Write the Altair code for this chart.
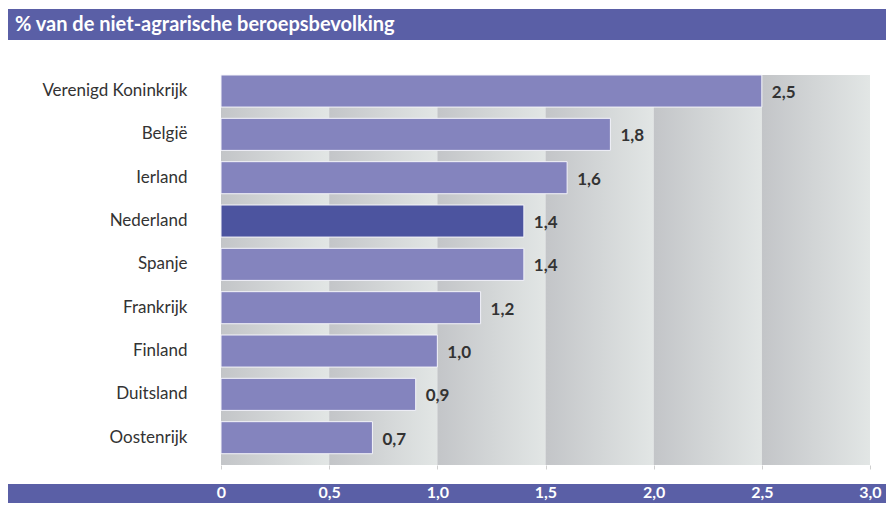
import altair as alt
import pandas as pd

countries = ["Verenigd Koninkrijk", "België", "Ierland", "Nederland", "Spanje",
             "Frankrijk", "Finland", "Duitsland", "Oostenrijk"]
values = [2.5, 1.8, 1.6, 1.4, 1.4, 1.2, 1.0, 0.9, 0.7]
highlight = [False, False, False, True, False, False, False, False, False]
col_starts = [0.0, 0.5, 1.0, 1.5, 2.0, 2.5]
col_width = 0.5
title_text = "% van de niet-agrarische beroepsbevolking"

W, H = 649, 390
FONT = "Lato"
BAND = "#5a5fa6"

bars_df = pd.DataFrame({"land": countries, "waarde": values, "nl": highlight})
bars_df["label"] = [f"{v:.1f}".replace(".", ",") for v in values]
cols_df = pd.DataFrame({"x0": col_starts, "x1": [c + col_width for c in col_starts]})
title_df = pd.DataFrame({"t": [title_text]})

xscale = alt.Scale(domain=[0, 3], nice=False, zero=True)
yscale = alt.Scale(paddingInner=0.26, paddingOuter=0.13, align=0)

gradient = alt.Gradient(
    gradient="linear",
    stops=[alt.GradientStop(color="#c3c5c8", offset=0),
           alt.GradientStop(color="#e2e6e5", offset=1)],
    x1=0, x2=1, y1=0, y2=0,
)

one = pd.DataFrame({"a": [0]})

top_band = alt.Chart(one).mark_rect(color=BAND).encode(
    x=alt.value(-213), x2=alt.value(W + 16), y=alt.value(-66), y2=alt.value(-35)
)
title_mark = alt.Chart(title_df).mark_text(
    align="left", baseline="middle", font=FONT, fontSize=20, fontWeight="bold", color="white"
).encode(text="t:N", x=alt.value(-206), y=alt.value(-50))

bottom_band = alt.Chart(one).mark_rect(color=BAND).encode(
    x=alt.value(-213), x2=alt.value(W + 16), y=alt.value(409), y2=alt.value(440)
)

cols = alt.Chart(cols_df).mark_rect(color=gradient).encode(
    x=alt.X("x0:Q", scale=xscale,
            axis=alt.Axis(values=[0, 0.5, 1, 1.5, 2, 2.5, 3], grid=False, domain=False,
                          tickColor="#d0d0d0", tickSize=4, labelFlush=False, zindex=2,
                          labelExpr="datum.value == 0 ? '0' : replace(format(datum.value, '.1f'), '.', ',')",
                          labelColor="white", labelFont=FONT, labelFontWeight="bold",
                          labelFontSize=16, labelBaseline="middle", labelPadding=23,
                          title=None)),
    x2="x1:Q",
)

bars = alt.Chart(bars_df).mark_bar(stroke="#f4f4fa", strokeWidth=1).encode(
    x=alt.X("waarde:Q", scale=xscale),
    y=alt.Y("land:N", sort=countries, scale=yscale,
            axis=alt.Axis(domain=False, ticks=False, labelPadding=34, labelFont=FONT,
                          labelFontSize=17, labelColor="#333333", title=None)),
    color=alt.Color("nl:N", scale=alt.Scale(domain=[False, True], range=["#8484be", "#4c549f"]),
                    legend=None),
)

labels = bars.mark_text(align="left", baseline="middle", dx=10, dy=2, font=FONT,
                        fontSize=17, fontWeight="bold", color="#333333").encode(
    text="label:N", color=alt.value("#333333")
)

chart = alt.layer(top_band, title_mark, bottom_band, cols, bars, labels).properties(
    width=W, height=H,
    autosize=alt.AutoSizeParams(type="none"),
    padding={"left": 213, "top": 67, "right": 16, "bottom": 38},
).configure_view(stroke=None)

chart.save("out.html", embed_options={"renderer": "svg", "actions": False})
